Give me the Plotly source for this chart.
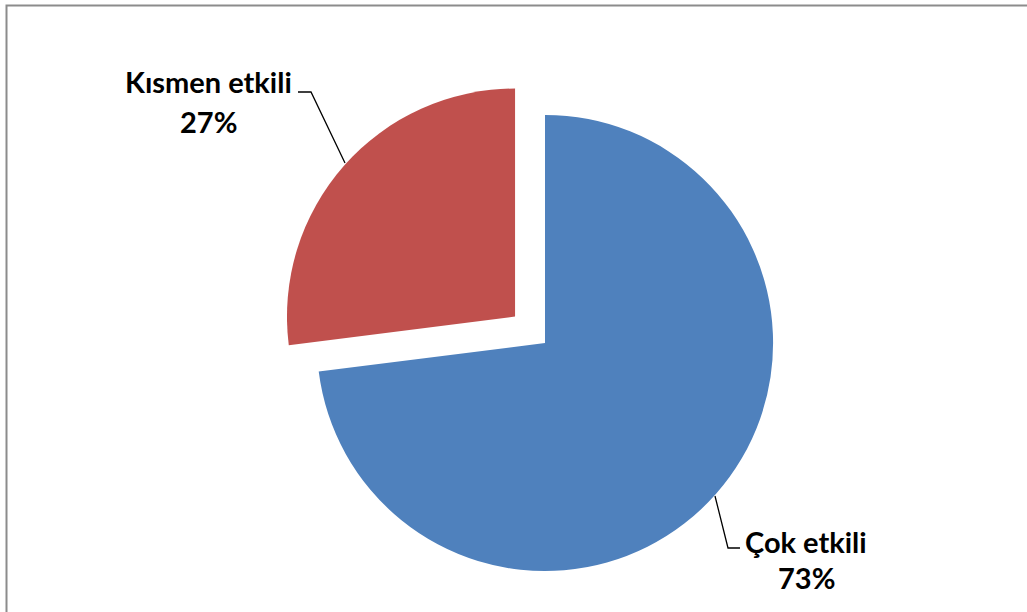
import plotly.graph_objects as go

W, H = 1027, 612
labels = ["Çok etkili", "Kısmen etkili"]
values = [73, 27]
colors = ["#4F81BD", "#C0504D"]
pulls = [0, 0.175]

def px(x):
    return x / W

def py(y):
    return 1 - y / H

fig = go.Figure()
fig.add_trace(go.Pie(
    labels=labels, values=values, sort=False, direction="clockwise", rotation=0,
    marker=dict(colors=colors, line=dict(width=0)), pull=pulls,
    textinfo="none", hoverinfo="label+percent", showlegend=False,
    domain=dict(x=[px(277), px(813)], y=[py(611), py(75)]),
))

font = dict(family="Lato, Carlito, Calibri, sans-serif", size=29, color="#000000")
pct = [round(v / sum(values) * 100) for v in values]
# label positions (pixels)
lab_pos = {"Çok etkili": (806, 541, 577), "Kısmen etkili": (208, 82, 122)}
for lab, p in zip(labels, pct):
    x, y1, y2 = lab_pos[lab]
    fig.add_annotation(x=px(x), y=py(y1), xref="paper", yref="paper", text="<b>%s</b>" % lab,
                       showarrow=False, font=font, xanchor="center", yanchor="middle")
    fig.add_annotation(x=px(x), y=py(y2), xref="paper", yref="paper", text="<b>%d%%</b>" % p,
                       showarrow=False, font=font, xanchor="center", yanchor="middle")

# leader lines
fig.add_shape(type="path", xref="paper", yref="paper",
              path="M %f %f L %f %f L %f %f" % (px(298), py(92), px(311), py(92), px(345), py(163)),
              line=dict(color="#000000", width=1.3))
fig.add_shape(type="path", xref="paper", yref="paper",
              path="M %f %f L %f %f L %f %f" % (px(715), py(496), px(728), py(548), px(740), py(548)),
              line=dict(color="#000000", width=1.3))

# chart border
fig.add_shape(type="rect", xref="paper", yref="paper",
              x0=px(6.5), y0=py(640), x1=px(1060), y1=py(5.5),
              line=dict(color="#8C8C8C", width=2), fillcolor="rgba(0,0,0,0)")

fig.update_layout(width=W, height=H, margin=dict(l=0, r=0, t=0, b=0),
                  paper_bgcolor="white", plot_bgcolor="white")
fig.write_html("out.html", config={"displayModeBar": False},
               post_script="document.body.style.margin='0px';")
